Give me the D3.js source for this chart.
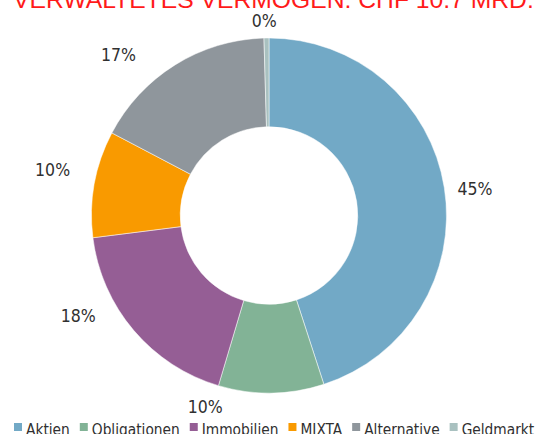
<!DOCTYPE html>
<html>
<head>
<meta charset="utf-8">
<script src="https://cdn.jsdelivr.net/npm/d3@7"></script>
<style>
  html, body { margin: 0; padding: 0; background: #fff; }
  svg { display: block; }
</style>
</head>
<body>
<svg id="chart" width="539" height="434"></svg>
<script>
// ---- data ----
const titleText = "VERWALTETES VERMÖGEN: CHF 10.7 MRD.";
const categories = ["Aktien", "Obligationen", "Immobilien", "MIXTA", "Alternative", "Geldmarkt"];
const values = [45.0, 9.6, 18.4, 9.7, 16.85, 0.45];

// ---- styles / layout ----
const colors = ["#72a9c6", "#82b396", "#955e95", "#f99a00", "#8f969c", "#a9c1c0"];
// label placement tweaks (angle shift in degrees, radius in px)
const labelAngleShift = [1.7, 19.2, 12.7, 1.7, -11.1, -0.6];
const labelRadius = [207.7, 201.3, 215.3, 221.2, 220.4, 195];

const W = 539, H = 434;
const cx = 269, cy = 215.5, R = 177.5, r0 = 88.75;
const condensed = "'DejaVu Sans Condensed', 'DejaVu Sans', sans-serif";

const svg = d3.select("#chart");

// title (partly clipped at top, as in the reference)
svg.append("text")
  .attr("x", 13).attr("y", 8)
  .attr("font-family", "'Liberation Sans', Arial, sans-serif")
  .attr("font-size", 24.7)
  .attr("fill", "#ff1a1a")
  .text(titleText);

const pie = d3.pie().sort(null).value(d => d)(values);
const arc = d3.arc().innerRadius(r0).outerRadius(R);

const g = svg.append("g").attr("transform", `translate(${cx},${cy})`);

g.selectAll("path.slice")
  .data(pie)
  .join("path")
  .attr("class", "slice")
  .attr("d", arc)
  .attr("fill", (d, i) => colors[i])
  .attr("stroke", "#fff")
  .attr("stroke-width", 0.5);

const fmt = d3.format(".0%");
g.selectAll("text.lbl")
  .data(pie)
  .join("text")
  .attr("class", "lbl")
  .attr("x", (d, i) => {
    const a = (d.startAngle + d.endAngle) / 2 + labelAngleShift[i] * Math.PI / 180;
    return Math.sin(a) * labelRadius[i];
  })
  .attr("y", (d, i) => {
    const a = (d.startAngle + d.endAngle) / 2 + labelAngleShift[i] * Math.PI / 180;
    return -Math.cos(a) * labelRadius[i];
  })
  .attr("dy", "0.36em")
  .attr("text-anchor", "middle")
  .attr("font-family", condensed)
  .attr("font-size", 17.5)
  .attr("fill", "#303030")
  .text(d => fmt(d.data / 100));

// legend
const legend = svg.append("g");
let lx = 14;
const markerSize = 8, markerY = 423, textBase = 434.5;
categories.forEach((c, i) => {
  legend.append("rect")
    .attr("x", lx).attr("y", markerY)
    .attr("width", markerSize).attr("height", markerSize)
    .attr("fill", colors[i]);
  const t = legend.append("text")
    .attr("x", lx + markerSize + 4).attr("y", textBase)
    .attr("font-family", condensed)
    .attr("font-size", 15.3)
    .attr("fill", "#303030")
    .text(c);
  const w = t.node().getComputedTextLength();
  lx += markerSize + 4 + w + 10;
});
</script>
</body>
</html>
